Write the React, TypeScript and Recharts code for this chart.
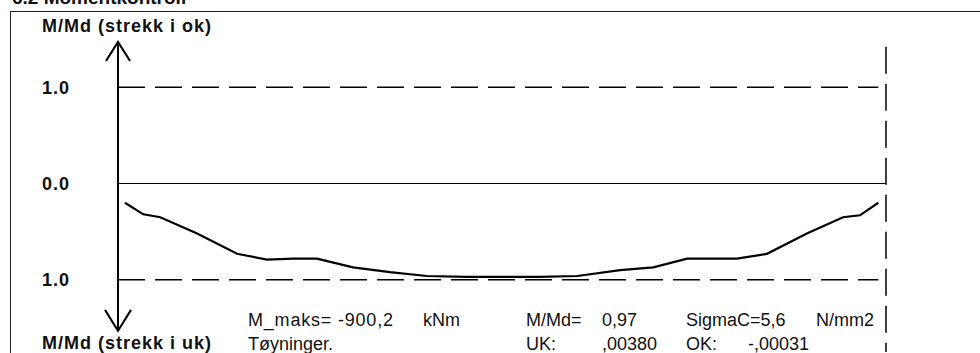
import React from "react"
import { LineChart, Line, XAxis, YAxis, ReferenceLine } from "recharts"

// position along the member (0 = left support, 100 = right end)
const POS = [0.9, 3.3, 5.5, 10.3, 15.5, 19.4, 22.8, 25.9, 30.6, 35.4, 40.2, 45.4, 49.7, 54.9, 59.8, 65.4, 69.7, 74.1, 77.1, 80.6, 84.5, 89.7, 94.4, 96.6, 99.0]
// M/Md, negative = strekk i uk
const MMD = [-0.2, -0.32, -0.35, -0.52, -0.73, -0.79, -0.78, -0.78, -0.87, -0.92, -0.96, -0.97, -0.97, -0.97, -0.96, -0.9, -0.87, -0.78, -0.78, -0.78, -0.73, -0.52, -0.35, -0.33, -0.2]
const Y_TICKS = [1, 0, -1]

const data = POS.map((x, i) => ({ x, v: MMD[i] }))

const FONT = "'Liberation Sans', Arial, sans-serif"
const INK = "#111"

const row1 = [
  { t: "M_maks= -900,2", x: 248, a: "start", ls: 0.8 },
  { t: "kNm", x: 423, a: "start", ls: 0 },
  { t: "M/Md=", x: 526, a: "start", ls: 0 },
  { t: "0,97", x: 602, a: "start", ls: 0 },
  { t: "SigmaC=5,6", x: 686, a: "start", ls: 0 },
  { t: "N/mm2", x: 874, a: "end", ls: 0 },
]
const row2 = [
  { t: "Tøyninger.", x: 248, a: "start", ls: 0 },
  { t: "UK:", x: 526, a: "start", ls: 0 },
  { t: ",00380", x: 602, a: "start", ls: 0 },
  { t: "OK:", x: 686, a: "start", ls: 0 },
  { t: "-,00031", x: 748, a: "start", ls: 0 },
]

function AxisArrow(p: any) {
  const top = Math.min(p.y1, p.y2)
  const bot = Math.max(p.y1, p.y2)
  const x = p.x1
  return (
    <g stroke="#000" strokeWidth={2} fill="none">
      <line x1={x} y1={top} x2={x} y2={bot} />
      <path d={`M${x - 12} ${top + 19} L${x} ${top} L${x + 12} ${top + 19}`} />
      <path d={`M${x - 13} ${bot - 21} L${x} ${bot} L${x + 13} ${bot - 21}`} />
    </g>
  )
}

const dash = { stroke: "#000", strokeWidth: 1.5, strokeDasharray: "27 10" }

export default function App() {
  return (
    <div style={{ position: "absolute", left: 0, top: 0, width: 980, height: 353, background: "#fff", overflow: "hidden" }}>
      <div style={{ position: "absolute", left: 10, top: 11, width: 980, height: 353, borderTop: "1.5px solid #222", borderLeft: "1.5px solid #222" }} />
      <div style={{ position: "absolute", left: 0, top: 0 }}>
        <LineChart width={980} height={353} data={data} margin={{ top: 39, right: 94, bottom: 25, left: 40 }}>
          <XAxis type="number" dataKey="x" domain={[0, 100]} hide />
          <YAxis
            type="number" domain={[-1.5, 1.5]} ticks={Y_TICKS} width={78}
            axisLine={false} tickLine={false} tickSize={0} tickMargin={48}
            tickFormatter={(v: number) => Math.abs(v).toFixed(1)}
            tick={{ fill: INK, fontFamily: FONT, fontWeight: 700, fontSize: 18, letterSpacing: 1 }}
          />
          <ReferenceLine segment={[{ x: 0, y: 1 }, { x: 99, y: 1 }]} {...dash} />
          <ReferenceLine segment={[{ x: 0, y: -1 }, { x: 99, y: -1 }]} {...dash} />
          <ReferenceLine segment={[{ x: 0, y: 0 }, { x: 100, y: 0 }]} stroke="#000" strokeWidth={1.2} />
          <ReferenceLine segment={[{ x: 100, y: 1.42 }, { x: 100, y: -1.75 }]} ifOverflow="visible" {...dash} />
          <ReferenceLine segment={[{ x: 0, y: 1.47 }, { x: 0, y: -1.53 }]} ifOverflow="visible" shape={AxisArrow} />
          <Line type="linear" dataKey="v" stroke="#000" strokeWidth={2.2} dot={false} isAnimationActive={false} />
        </LineChart>
      </div>
      <svg width={980} height={353} style={{ position: "absolute", left: 0, top: 0, pointerEvents: "none" }}>
        <g fontFamily={FONT} fill={INK}>
          <text x={12} y={4} fontSize={19} fontWeight={700}>6.2 Momentkontroll</text>
          <text x={42} y={32} fontSize={18} fontWeight={700} letterSpacing={1}>M/Md (strekk i ok)</text>
          <text x={42} y={349} fontSize={18} fontWeight={700} letterSpacing={1}>M/Md (strekk i uk)</text>
          {row1.map((r) => (
            <text key={r.t} x={r.x} y={326} fontSize={18} textAnchor={r.a} letterSpacing={r.ls}>{r.t}</text>
          ))}
          {row2.map((r) => (
            <text key={r.t} x={r.x} y={350} fontSize={18} textAnchor={r.a}>{r.t}</text>
          ))}
        </g>
      </svg>
    </div>
  )
}
